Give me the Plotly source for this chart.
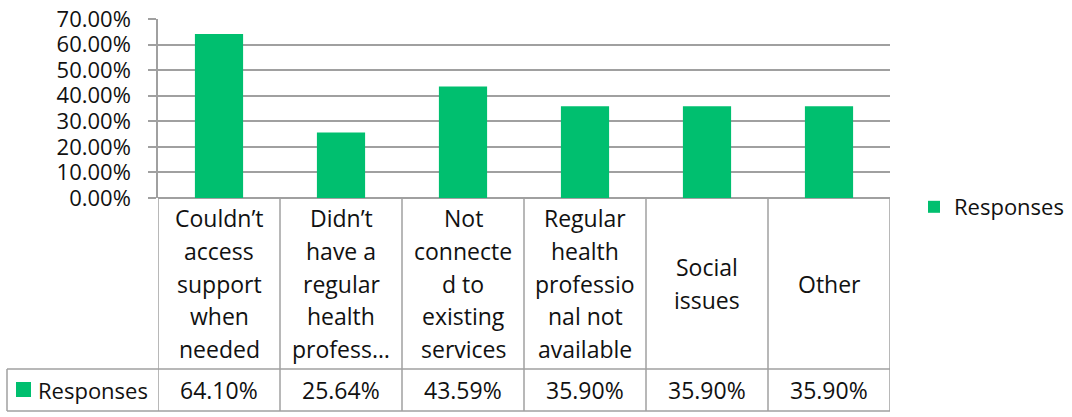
import plotly.graph_objects as go

# Survey data
categories = [
    "Couldn’t access support when needed",
    "Didn’t have a regular health professional",
    "Not connected to existing services",
    "Regular health professional not available",
    "Social issues",
    "Other",
]
label_lines = [
    ["Couldn’t", "access", "support", "when", "needed"],
    ["Didn’t", "have a", "regular", "health", "profess…"],
    ["Not", "connecte", "d to", "existing", "services"],
    ["Regular", "health", "professio", "nal not", "available"],
    ["Social", "issues"],
    ["Other"],
]
responses = [0.6410, 0.2564, 0.4359, 0.3590, 0.3590, 0.3590]
series_name = "Responses"
y_ticks = [0, 0.1, 0.2, 0.3, 0.4, 0.5, 0.6, 0.7]

# Layout geometry (pixels)
W, H = 1072, 417
ML, MR, MT, MB = 158, 182, 19, 219
PW = W - ML - MR
PH = H - MT - MB
FONT = "Open Sans"
FS = 23
GREEN = "#00BF6F"
GRID = "#A0A0A0"
TXT = "#111111"

def px_x(px):
    return (px - ML) / PW

def px_y(py):
    return (H - MB - py) / PH

row1_bottom = 369
row2_bottom = 411
left_edge = 7
line_step = 32.5

fig = go.Figure()
fig.add_trace(go.Bar(
    x=categories, y=responses, name=series_name,
    marker=dict(color=GREEN, line=dict(width=0)),
    showlegend=True,
))

n = len(categories)
shapes = []
line_style = dict(color=GRID, width=1.5)

# table: vertical borders between category columns
for i in range(n + 1):
    shapes.append(dict(type="line", xref="x", yref="paper",
                       x0=i - 0.5, x1=i - 0.5, y0=0, y1=px_y(row2_bottom),
                       line=line_style))
# table: horizontal borders
for py in (row1_bottom, row2_bottom):
    shapes.append(dict(type="line", xref="paper", yref="paper",
                       x0=px_x(left_edge), x1=1, y0=px_y(py), y1=px_y(py),
                       line=line_style))
# table: left edge of series-name cell
shapes.append(dict(type="line", xref="paper", yref="paper",
                   x0=px_x(left_edge), x1=px_x(left_edge),
                   y0=px_y(row1_bottom), y1=px_y(row2_bottom),
                   line=line_style))
# legend key inside the table
shapes.append(dict(type="rect", xref="paper", yref="paper",
                   x0=px_x(16), x1=px_x(31), y0=px_y(382), y1=px_y(397),
                   fillcolor=GREEN, line=dict(width=0)))

annotations = []
cell_mid = (H - MB + row1_bottom) / 2
for i, lines in enumerate(label_lines):
    k = len(lines)
    for j, txt in enumerate(lines):
        py = cell_mid + (j - (k - 1) / 2) * line_step
        annotations.append(dict(x=i, y=px_y(py), xref="x", yref="paper",
                                text=txt, showarrow=False,
                                xanchor="center", yanchor="middle",
                                font=dict(family=FONT, size=FS, color=TXT)))
val_mid = (row1_bottom + row2_bottom) / 2
for i, v in enumerate(responses):
    annotations.append(dict(x=i, y=px_y(val_mid), xref="x", yref="paper",
                            text=f"{v:.2%}", showarrow=False,
                            xanchor="center", yanchor="middle",
                            font=dict(family=FONT, size=FS, color=TXT)))
annotations.append(dict(x=px_x(36), y=px_y(val_mid), xref="paper", yref="paper",
                        text=series_name, showarrow=False,
                        xanchor="left", yanchor="middle",
                        font=dict(family=FONT, size=FS - 1, color=TXT)))

fig.update_layout(
    width=W, height=H,
    margin=dict(l=ML, r=MR, t=MT, b=MB, pad=0, autoexpand=False),
    paper_bgcolor="white", plot_bgcolor="white",
    bargap=0.605,
    font=dict(family=FONT, size=FS, color=TXT),
    shapes=shapes,
    annotations=annotations,
    legend=dict(x=px_x(914), y=px_y(207), xanchor="left", yanchor="middle",
                font=dict(family=FONT, size=FS - 1, color=TXT),
                bgcolor="rgba(0,0,0,0)"),
    xaxis=dict(range=[-0.5, n - 0.5], showticklabels=False, showgrid=False,
               zeroline=False, showline=False, ticks=""),
    yaxis=dict(range=[0, 0.7], tickvals=y_ticks, tickformat=".2%",
               showgrid=True, gridcolor=GRID, gridwidth=1.5,
               zeroline=True, zerolinecolor=GRID, zerolinewidth=1.5,
               showline=True, linecolor=GRID, linewidth=1.5,
               ticks="outside", ticklen=8, tickcolor=GRID, tickwidth=1.5,
               ticklabelstandoff=13,
               tickfont=dict(family=FONT, size=FS - 1, color=TXT)),
)

fig.write_html("out.html")
